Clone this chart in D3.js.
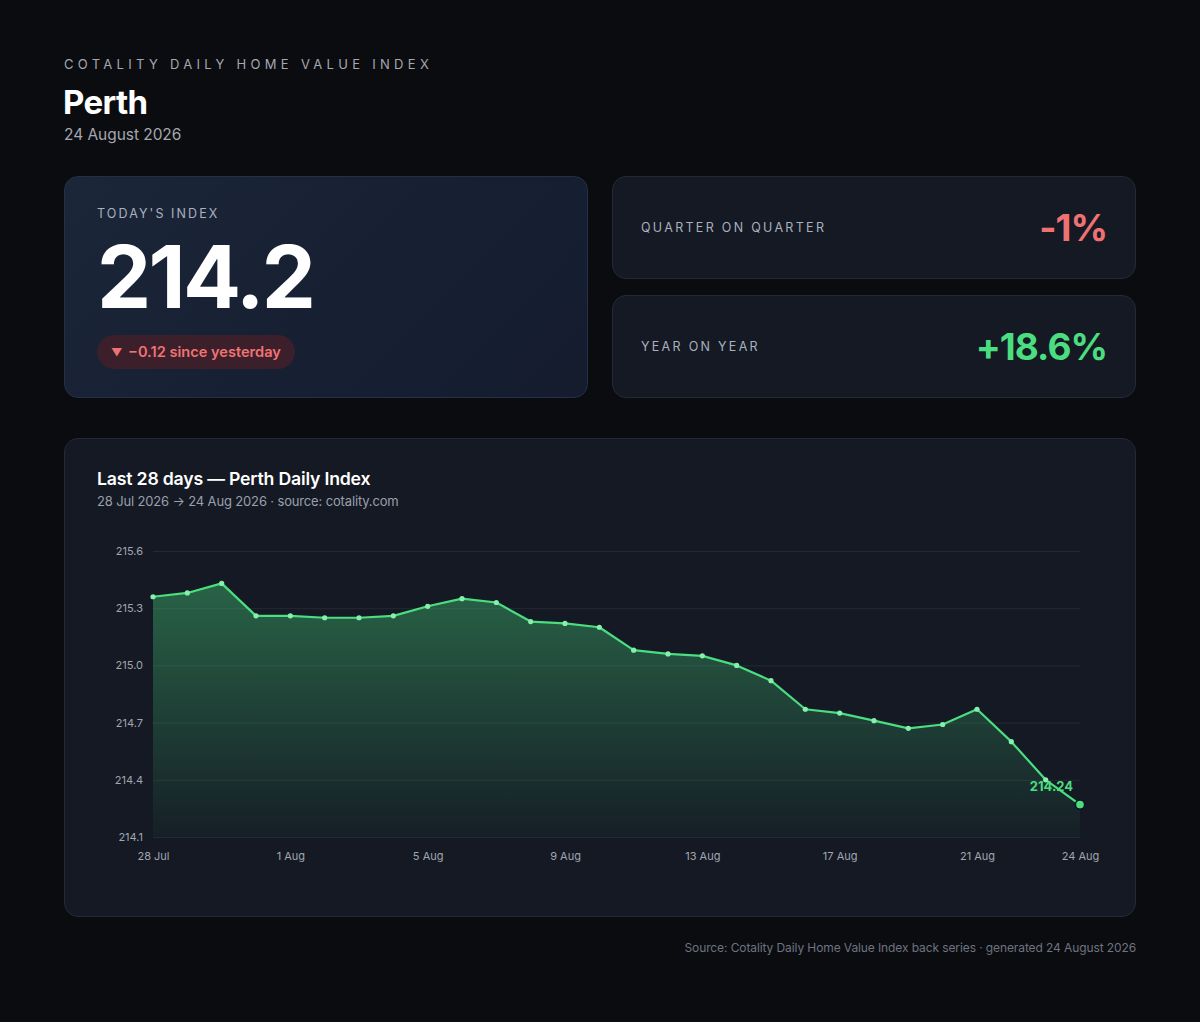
<!DOCTYPE html>
<html>
<head>
<meta charset="utf-8">
<script src="https://cdn.jsdelivr.net/npm/d3@7"></script>
<style>
  html, body { margin: 0; padding: 0; }
  body {
    width: 1200px; height: 1022px; background: #0b0c10;
    font-family: Inter, "Noto Sans", sans-serif; color: #fff; position: relative; overflow: hidden;
  }
  .abs { position: absolute; }
  .kicker { left: 64px; top: 56px; font-size: 13px; letter-spacing: 4.3px; color: #a3a7b0; }
  .city { left: 63px; top: 82px; font-size: 33px; font-weight: 700; letter-spacing: -0.6px; }
  .date { left: 64px; top: 125px; font-size: 15.5px; letter-spacing: -0.05px; color: #a4a7ae; }
  .card {
    position: absolute; box-sizing: border-box; border-radius: 14px;
    border: 1px solid #222a38; background: #141924;
  }
  .hero { left: 64px; top: 176px; width: 524px; height: 222px;
    background: linear-gradient(135deg, #1c2639 0%, #172033 55%, #141c2e 100%); border-color: #243047; }
  .label { font-size: 12.5px; letter-spacing: 2.3px; color: #a9b1bf; }
  .bignum { left: 32px; top: 48px; font-size: 86px; font-weight: 700; letter-spacing: -2.6px; }
  .pill { left: 32px; top: 158px; height: 34px; padding: 0 14px; border-radius: 17px;
    background: #3b1f2a; color: #f07373; font-size: 14.6px; font-weight: 600; line-height: 35px; }
  .pill .tri { font-size: 11px; position: relative; top: -1px; margin-right: 2px; }
  .stat { left: 612px; width: 524px; height: 103px; }
  .stat .label { position: absolute; left: 28px; top: 43px; }
  .stat .val { position: absolute; right: 28px; top: 28px; font-size: 37px; font-weight: 700; letter-spacing: -1px; }
  .chartcard { left: 64px; top: 438px; width: 1072px; height: 479px; }
  .ctitle { left: 32px; top: 29px; font-size: 17.7px; font-weight: 600; letter-spacing: -0.2px; }
  .csub { left: 32px; top: 54px; font-size: 13px; letter-spacing: -0.15px; color: #9aa0ab; }
  .foot { right: 64px; top: 940px; font-size: 12px; letter-spacing: -0.1px; color: #6e7380; }
  svg text { font-family: Inter, "Noto Sans", sans-serif; }
</style>
</head>
<body>
<div class="abs kicker">COTALITY DAILY HOME VALUE INDEX</div>
<div class="abs city">Perth</div>
<div class="abs date">24 August 2026</div>

<div class="card hero">
  <div class="abs label" style="left:32px;top:29px;letter-spacing:2.1px;">TODAY'S INDEX</div>
  <div class="abs bignum">214.2</div>
  <div class="abs pill"><span class="tri">▼</span> −0.12 since yesterday</div>
</div>

<div class="card stat" style="top:176px;">
  <div class="label">QUARTER ON QUARTER</div>
  <div class="val" style="color:#f07171;">-1%</div>
</div>
<div class="card stat" style="top:295px;">
  <div class="label">YEAR ON YEAR</div>
  <div class="val" style="color:#4ade80;">+18.6%</div>
</div>

<div class="card chartcard" id="chart-card">
  <div class="abs ctitle">Last 28 days — Perth Daily Index</div>
  <div class="abs csub">28 Jul 2026 → 24 Aug 2026 · source: cotality.com</div>
</div>

<div class="abs foot">Source: Cotality Daily Home Value Index back series · generated 24 August 2026</div>

<script>
// daily index, 28 Jul -> 24 Aug 2026
const dates = [
  "2026-07-28", "2026-07-29", "2026-07-30", "2026-07-31", "2026-08-01", "2026-08-02", "2026-08-03",
  "2026-08-04", "2026-08-05", "2026-08-06", "2026-08-07", "2026-08-08", "2026-08-09", "2026-08-10",
  "2026-08-11", "2026-08-12", "2026-08-13", "2026-08-14", "2026-08-15", "2026-08-16", "2026-08-17",
  "2026-08-18", "2026-08-19", "2026-08-20", "2026-08-21", "2026-08-22", "2026-08-23", "2026-08-24"
];
const values = [
  215.36, 215.38, 215.43, 215.26, 215.26, 215.25, 215.25,
  215.26, 215.31, 215.35, 215.33, 215.23, 215.22, 215.20,
  215.08, 215.06, 215.05, 215.00, 214.92, 214.77, 214.75,
  214.71, 214.67, 214.69, 214.77, 214.60, 214.40, 214.27
];
const yTicks = [214.1, 214.4, 214.7, 215.0, 215.3, 215.6];
const xTickDates = ["2026-07-28", "2026-08-01", "2026-08-05", "2026-08-09", "2026-08-13", "2026-08-17", "2026-08-21", "2026-08-24"];
const latestLabel = "214.24";

const parse = d3.timeParse("%Y-%m-%d");
const data = dates.map((d, i) => ({ date: parse(d), value: values[i] }));

const card = d3.select("#chart-card");
const W = 1072, H = 479;
const m = { left: 89, top: 113, right: 56, bottom: 80 };

const svg = card.append("svg")
  .attr("width", W).attr("height", H)
  .style("position", "absolute").style("left", "-1px").style("top", "-1px");

const x = d3.scaleTime()
  .domain(d3.extent(data, d => d.date))
  .range([m.left, W - m.right]);
const y = d3.scaleLinear()
  .domain([214.1, 215.6])
  .range([H - m.bottom, m.top]);

const defs = svg.append("defs");
const grad = defs.append("linearGradient")
  .attr("id", "areaFill").attr("gradientUnits", "userSpaceOnUse")
  .attr("x1", 0).attr("x2", 0).attr("y1", y(215.45)).attr("y2", y(214.1));
grad.append("stop").attr("offset", "0%").attr("stop-color", "#4ade80").attr("stop-opacity", 0.38);
grad.append("stop").attr("offset", "100%").attr("stop-color", "#4ade80").attr("stop-opacity", 0.03);

// gridlines
svg.append("g")
  .attr("transform", `translate(${m.left},0)`)
  .call(d3.axisLeft(y).tickValues(yTicks).tickSize(-(W - m.left - m.right)).tickFormat(d3.format(".1f")).tickPadding(10))
  .call(g => g.select(".domain").remove())
  .call(g => g.selectAll(".tick line").attr("stroke", "#ffffff").attr("stroke-opacity", 0.07))
  .call(g => g.selectAll(".tick text").attr("fill", "#a1a6b0").attr("font-size", 11));

svg.append("g")
  .attr("transform", `translate(0,${H - m.bottom})`)
  .call(d3.axisBottom(x).tickValues(xTickDates.map(parse)).tickFormat(d3.timeFormat("%-d %b")).tickSize(0).tickPadding(15))
  .call(g => g.select(".domain").remove())
  .call(g => g.selectAll(".tick text").attr("fill", "#a1a6b0").attr("font-size", 11));

const area = d3.area()
  .x(d => x(d.date))
  .y0(y(214.1))
  .y1(d => y(d.value));

const line = d3.line()
  .x(d => x(d.date))
  .y(d => y(d.value));

svg.append("path").datum(data)
  .attr("d", area)
  .attr("fill", "url(#areaFill)");

svg.append("path").datum(data)
  .attr("d", line)
  .attr("fill", "none")
  .attr("stroke", "#4ade80")
  .attr("stroke-width", 2.2)
  .attr("stroke-linejoin", "round");

svg.append("g").selectAll("circle")
  .data(data.slice(0, -1))
  .enter().append("circle")
  .attr("cx", d => x(d.date))
  .attr("cy", d => y(d.value))
  .attr("r", 2.6)
  .attr("fill", "#86efac");

const last = data[data.length - 1];
svg.append("circle")
  .attr("cx", x(last.date)).attr("cy", y(last.value))
  .attr("r", 4.6)
  .attr("fill", "#4ade80")
  .attr("stroke", "#0f141d").attr("stroke-width", 1.5);

svg.append("text")
  .attr("x", x(last.date) - 7).attr("y", y(last.value) - 14)
  .attr("text-anchor", "end")
  .attr("fill", "#4ade80")
  .attr("font-size", 13).attr("font-weight", 700)
  .text(latestLabel);
</script>
</body>
</html>
